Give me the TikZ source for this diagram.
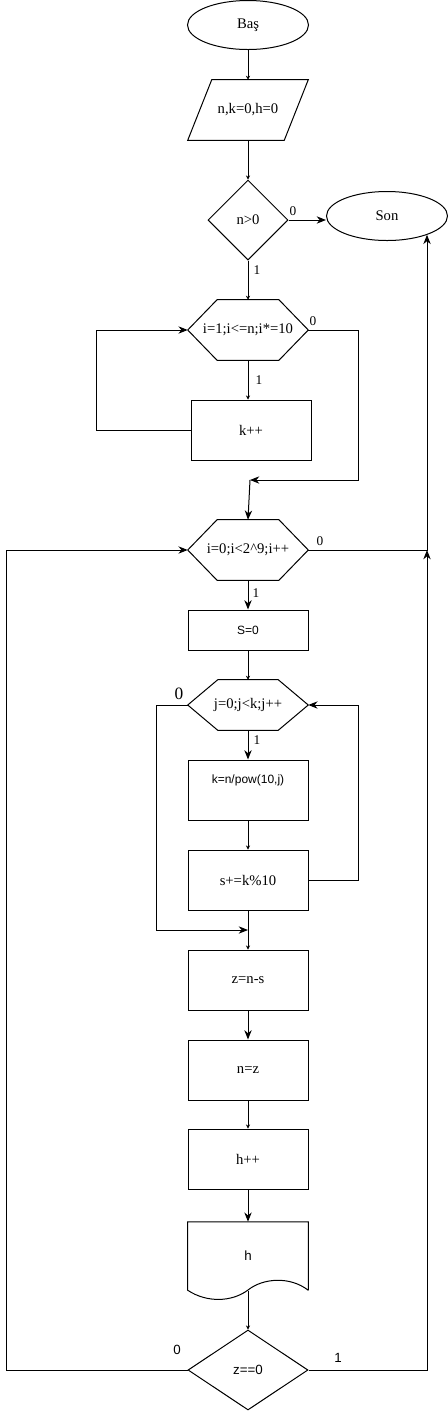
\documentclass[tikz,border=0pt]{standalone}
\usepackage{fontspec}
\setmainfont{Liberation Serif}
\setsansfont{Liberation Sans}
\usetikzlibrary{arrows.meta,shapes.geometric}
\tikzset{
  ln/.style={line width=0.75pt, draw=black},
  arr/.style={ln, -{Stealth[length=7pt,width=5.5pt]}},
  tarr/.style={ln, -{Stealth[length=3pt,width=3pt]}},
  ser/.style={font=\fontsize{11}{13}\selectfont},
  sansf/.style={font=\sffamily\fontsize{9}{11}\selectfont},
  term/.style={ellipse, ln, minimum width=90.75pt, minimum height=36.75pt, inner sep=0pt, ser},
  box/.style={rectangle, ln, minimum width=90pt, minimum height=45pt, inner sep=0pt, ser},
  dia/.style={diamond, ln, inner sep=0pt, ser},
  hexa/.style={rectangle, minimum width=90pt, minimum height=45pt, inner sep=0pt, ser},
  lbl/.style={font=\fontsize{10}{12}\selectfont, inner sep=0pt},
  lbls/.style={font=\sffamily\fontsize{10}{12}\selectfont, inner sep=0pt},
}
\begin{document}
\begin{tikzpicture}[x=0.75pt,y=-0.75pt]
\useasboundingbox (0,0) rectangle (448,1411);
% nodes
\node[term] (bas) at (248,25) {Baş};
\node[hexa] (inp) at (248,110) {n,k=0,h=0};
\draw[ln] ([xshift=18pt]inp.north west) -- (inp.north east) -- ([xshift=-18pt]inp.south east) -- (inp.south west) -- cycle;
\node[dia, minimum width=60pt, minimum height=60pt, aspect=1] (d1) at (248,220) {n>0};
\node[term] (son) at (387,216) {Son};
\node[hexa] (h1) at (248,330) {i=1;i<=n;i*=10};
\draw[ln] (h1.west) -- ([xshift=22pt]h1.north west) -- ([xshift=-22pt]h1.north east) -- (h1.east) -- ([xshift=-22pt]h1.south east) -- ([xshift=22pt]h1.south west) -- cycle;
\node[box] (kpp) at (251,430) {k++};
\coordinate (m1) at (250,480);
\node[hexa] (h2) at (248,550) {i=0;i<2\textasciicircum 9;i++};
\draw[ln] (h2.west) -- ([xshift=22pt]h2.north west) -- ([xshift=-22pt]h2.north east) -- (h2.east) -- ([xshift=-22pt]h2.south east) -- ([xshift=22pt]h2.south west) -- cycle;
\coordinate (r1) at (427,550);
\node[box, minimum height=30pt, sansf] (s0) at (248,630) {S=0};
\node[hexa, minimum height=37.5pt] (h3) at (248,705) {j=0;j<k;j++};
\draw[ln] (h3.west) -- ([xshift=22.5pt]h3.north west) -- ([xshift=-22.5pt]h3.north east) -- (h3.east) -- ([xshift=-22.5pt]h3.south east) -- ([xshift=22.5pt]h3.south west) -- cycle;
\node[box, label={[sansf, yshift=7.5pt]center:k=n/pow(10,j)}] (kn) at (248,790) {};
\node[box] (sp) at (248,880) {s+=k\%10};
\coordinate (j1) at (248,930);
\node[box] (zn) at (248,980) {z=n-s};
\node[box] (nz) at (248,1070) {n=z};
\node[box] (hp) at (248,1159) {h++};
\node[rectangle, minimum width=90pt, minimum height=51pt, inner sep=0pt, font=\sffamily\fontsize{10}{12}\selectfont] (doc) at (248,1256) {h};
\draw[ln] (doc.south east) -- (doc.north east) -- (doc.north west) -- (doc.south west)
  .. controls (207,1303) and (232,1302) .. (248,1290)
  .. controls (263,1278) and (290,1276) .. (doc.south east);
\coordinate (docb) at (248,1291);
\node[dia, minimum width=90pt, minimum height=60pt, aspect=1.5, font=\sffamily\fontsize{10}{12}\selectfont] (d2) at (248,1370) {z==0};
% connectors
\draw[tarr] (bas.south) -- (inp.north);
\draw[tarr] (inp.south) -- (d1.north);
\draw[arr] (d1.east) -- (d1.east -| son.west);
\draw[tarr] (d1.south) -- (h1.north);
\draw[tarr] (h1.south) -- (h1.south |- kpp.north);
\draw[arr] (kpp.west) -- ++(-94,0) |- (h1.west);
\draw[arr] (h1.east) -- ++(50,0) |- (m1);
\draw[arr] (m1) -- (h2.north);
\draw[arr] (h2.east) -- (r1) -- (r1 |- son.-25);
\draw[arr] (h2.south) -- (s0.north);
\draw[tarr] (s0.south) -- (h3.north);
\draw[arr] (h3.south) -- (kn.north);
\draw[tarr] (kn.south) -- (sp.north);
\draw[arr] (sp.east) -- ++(50,0) |- (h3.east);
\draw[arr] (h3.west) -- ++(-31,0) |- (j1);
\draw[tarr] (sp.south) -- (zn.north);
\draw[arr] (zn.south) -- (nz.north);
\draw[tarr] (nz.south) -- (hp.north);
\draw[arr] (hp.south) -- (doc.north);
\draw[tarr] (docb) -- (d2.north);
\draw[arr] (d2.west) -- ++(-181,0) |- (h2.west);
\draw[arr] (d2.east) -| (r1);
% labels
\node[lbl] (l1) at (293,211) {0};
\node[lbl] (l2) at (257,270) {1};
\node[lbl] (l3) at (313,321) {0};
\node[lbl] (l4) at (259,380) {1};
\node[lbl] (l5) at (320,541) {0};
\node[lbl] (l6) at (256,593) {1};
\node[lbl, font=\fontsize{13}{15}\selectfont] (l7) at (179,694) {0};
\node[lbl] (l8) at (257,740) {1};
\node[lbls] (l9) at (177,1350) {0};
\node[lbls] (l10) at (338,1358) {1};
\end{tikzpicture}
\end{document}
